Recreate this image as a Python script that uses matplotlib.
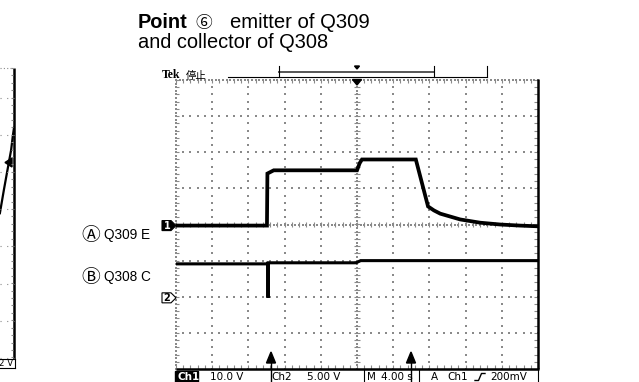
import numpy as np
import matplotlib
matplotlib.use('Agg')
import matplotlib.pyplot as plt
from matplotlib.patches import Polygon, Rectangle
from matplotlib.collections import LineCollection

W, H = 639, 382

# Ch1 = emitter of Q309 (10 V/div), Ch2 = collector of Q308 (5 V/div)
# time in seconds, 4 s/div, trigger at t = 0
ch1_t = [-20.0, -9.95, -9.9, -9.2, 0.0, 0.3, 0.55, 6.5, 7.85, 8.5, 9.2, 10.3, 11.4, 13.6, 15.8, 18.0, 20.0]
ch1_v = [0.0, 0.0, 14.4, 15.3, 15.3, 17.3, 18.3, 18.3, 5.3, 4.2, 3.3, 2.5, 1.7, 0.8, 0.3, 0.0, -0.2]
ch2_t = [-20.0, -9.84, -9.83, -9.82, -0.1, 0.4, 20.0]
ch2_v = [4.7, 4.7, 0.0, 4.85, 4.85, 5.15, 5.15]
ch1_scale, ch2_scale = 10.0, 5.0      # V/div
ch1_pos, ch2_pos = -0.03, -2.03      # ground marker position, div

# neighbouring capture (2 V/div), only its right edge is on screen
prev_x = [9.61, 9.72, 9.83, 9.92, 9.97, 10.0]
prev_v = [-0.2, 1.05, 2.24, 3.2, 4.0, 4.4]

status = [('10.0 V', 210), ('Ch2', 271), ('5.00 V', 307), ('M', 367),
          ('4.00 s', 381), ('A', 431), ('Ch1', 447), ('200mV', 490)]

fig = plt.figure(figsize=(W / 100, H / 100), dpi=100)
fig.patch.set_facecolor('white')

# scope screen, pixel frame
SX0, SX1, SY0, SY1 = 176, 538, 80, 369
ax = fig.add_axes([SX0 / W, 1 - SY1 / H, (SX1 - SX0) / W, (SY1 - SY0) / H])
ax.set_xlim(-20, 20)
ax.set_ylim(-4, 4)
ax.axis('off')

gray = '#8a8a8a'
mt = np.arange(-20, 20.01, 0.8)
my = np.arange(-4, 4.01, 0.2)
for t in range(-16, 17, 4):
    if t != 0:
        ax.scatter(np.full_like(my, t), my, s=1.3, c=gray, marker='s', lw=0)
for y in range(-3, 4):
    if y != 0:
        ax.scatter(mt, np.full_like(mt, y), s=1.3, c=gray, marker='s', lw=0)

fine_t = np.arange(-20, 20.01, 0.4)
fine_y = np.arange(-4, 4.01, 0.1)
ax.scatter(fine_t, np.full_like(fine_t, 0), s=1.0, c=gray, marker='s', lw=0)
ax.scatter(np.full_like(fine_y, 0), fine_y, s=1.0, c=gray, marker='s', lw=0)
ax.scatter(fine_t, np.full_like(fine_t, 4), s=1.0, c=gray, marker='s', lw=0, clip_on=False)
ax.scatter(np.full_like(fine_y, -20), fine_y, s=1.0, c=gray, marker='s', lw=0, clip_on=False)

ticks = []
for y in my:
    ticks.append([(-0.35, y), (0.35, y)])
    ticks.append([(-20, y), (-19.7, y)])
    ticks.append([(19.6, y), (20, y)])
for t in mt:
    ticks.append([(t, -0.07), (t, 0.07)])
    ticks.append([(t, 4), (t, 3.92)])
    ticks.append([(t, -4), (t, -3.9)])
ax.add_collection(LineCollection(ticks, colors=gray, linewidths=0.8, clip_on=False))

ax.plot([20, 20], [-4, 4.02], color='black', lw=1.8, clip_on=False, solid_capstyle='butt')
ax.plot([-20, 20.1], [-4, -4], color='black', lw=1.8, clip_on=False, solid_capstyle='butt')

ax.plot(ch1_t, np.array(ch1_v) / ch1_scale + ch1_pos, color='black', lw=2.7,
        solid_joinstyle='miter')
ax.plot(ch2_t, np.array(ch2_v) / ch2_scale + ch2_pos, color='black', lw=2.2,
        solid_joinstyle='miter')

# neighbouring capture on the far left
lx = fig.add_axes([(14 - 362) / W, 1 - 358 / H, 362 / W, 297 / H])
lx.set_xlim(0, 10)
lx.set_ylim(-4, 4)
lx.axis('off')
lx.plot(prev_x, np.array(prev_v) / 2.0, color='black', lw=1.6)

# overlay in pixel coordinates for labels and screen furniture
ov = fig.add_axes([0, 0, 1, 1], facecolor='none')
ov.set_xlim(0, W)
ov.set_ylim(H, 0)
ov.axis('off')

sans = ['Liberation Sans', 'DejaVu Sans']
circ = ['Noto Sans CJK JP', 'DejaVu Sans']
ov.text(138, 28, 'Point', fontsize=14.4, fontweight='bold', family=sans)
ov.text(195, 28, '\u2465', fontsize=12, family=circ)
ov.text(230, 28, 'emitter of Q309', fontsize=14.6, family=sans)
ov.text(138, 47.5, 'and collector of Q308', fontsize=14.4, family=sans)

ov.text(81, 241.5, '\u24b6', fontsize=13.5, family=circ)
ov.text(104, 239.5, 'Q309 E', fontsize=9.8, family=sans)
ov.text(81, 283.5, '\u24b7', fontsize=13.5, family=circ)
ov.text(104, 281.5, 'Q308 C', fontsize=9.8, family=sans)

ov.text(162, 78.5, 'Tek', fontsize=8.5, fontweight='bold', family=['Liberation Serif'])
ov.text(186, 78.5, '\u505c\u6b62', fontsize=7.5, family=['Noto Sans CJK JP', 'DejaVu Sans'])

# record-length bar above the screen
k = dict(color='black', lw=0.8)
ov.plot([228, 487], [77, 77], **k)
ov.plot([279, 434], [72, 72], color='#555555', lw=1.4)
for x in (279, 434, 487):
    ov.plot([x, x], [66, 77], **k)
ov.add_patch(Polygon([(354.5, 66), (359.5, 66), (357, 69)], closed=True, color='black'))
ov.add_patch(Polygon([(352.5, 79.5), (361.5, 79.5), (357, 85)], closed=True, color='black'))

# channel ground markers
def level_px(pos):
    return (SY0 + SY1) / 2 - pos * (SY1 - SY0) / 8

for pos, num, fill in ((ch1_pos, '1', True), (ch2_pos, '2', False)):
    yc = level_px(pos)
    ov.add_patch(Polygon([(162, yc - 5), (171, yc - 5), (176, yc), (171, yc + 5), (162, yc + 5)],
                         closed=True, facecolor='black' if fill else 'white',
                         edgecolor='black', lw=0.8))
    ov.text(167, yc + 0.5, num, fontsize=7, fontweight='bold', ha='center', va='center',
            color='white' if fill else 'black', family=['DejaVu Sans'])

# cursor arrows at the bottom of the screen
for x in (271, 411):
    ov.add_patch(Polygon([(x - 4.5, 363), (x + 4.5, 363), (x, 352)], closed=True, color='black'))
    ov.plot([x, x], [362, 382], color='black', lw=1.0)

# status line
ov.add_patch(Rectangle((175, 371), 23, 12, color='black'))
ov.text(177, 380.5, 'Ch1', fontsize=7.5, color='white', fontweight='bold', family=['DejaVu Sans'])
for s, x in status:
    ov.text(x, 380.5, s, fontsize=7.5, family=['DejaVu Sans'])
for x in (364, 419, 538):
    ov.plot([x, x], [370, 382], color='black', lw=0.8)
ov.plot([475, 478.5, 481.5, 485], [380.5, 380.5, 373.5, 373.5], color='black', lw=1.0)

# frame of the capture on the left
ov.plot([14, 14], [68, 359], color='black', lw=1.8, solid_capstyle='butt')
ov.plot([0, 15], [359, 359], color='black', lw=0.8)
ov.plot([15, 15], [359, 368], color='black', lw=0.8)
ov.plot([0, 15], [368, 368], color='black', lw=0.8)
ov.plot([0, 14], [68, 68], color=gray, lw=0.8, ls=(0, (1, 2)))
for yy in np.arange(98, 358, 37.1):
    ov.plot([0, 14], [yy, yy], color=gray, lw=0.8, ls=(0, (1, 5)))
lt = [[(10.5, yy), (13, yy)] for yy in np.arange(68, 359, 7.42)]
ov.add_collection(LineCollection(lt, colors=gray, linewidths=0.8))
ov.text(13.5, 366.5, '2 V', fontsize=6.2, ha='right', family=['DejaVu Sans'])
ov.add_patch(Polygon([(5, 162.5), (12, 158), (12, 167)], closed=True, color='black'))

fig.savefig('out.png', dpi=100, facecolor='white')
